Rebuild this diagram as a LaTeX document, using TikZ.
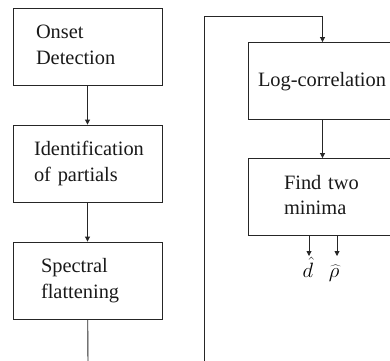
\documentclass[tikz,border=0pt]{standalone}
\usepackage{fontspec}
\setmainfont{Liberation Serif}
\usetikzlibrary{arrows.meta}
\newcommand\boxtext[2]{\hspace*{#1}\begin{tabular}{@{}l@{}}#2\end{tabular}}
\begin{document}
\begin{tikzpicture}[x=1pt,y=-1pt,
  blk/.style={draw=black!85, line width=0.9pt, minimum height=77pt, inner xsep=0pt, inner ysep=0pt, text width=149pt, align=left, font=\fontsize{20.4}{25.5}\selectfont, text=black!90},
  arr/.style={draw=black!85, line width=0.9pt, -{Triangle[length=5pt,width=5pt]}},
  ln/.style={draw=black!85, line width=0.9pt},
  lbl/.style={inner sep=0pt, anchor=base, font=\fontsize{20}{24}\selectfont}]
\useasboundingbox (0,0) rectangle (390,360);
\node[blk] (onset) at (87.5,46.5) {\boxtext{23pt}{Onset\\Detection}};
\node[blk] (ident) at (87.5,163.5) {\boxtext{21pt}{Identification\\of partials}};
\node[blk] (spec) at (87.5,280.5) {\boxtext{28pt}{Spectral\\flattening}};
\node[blk] (logc) at (322.5,81) {\boxtext{10pt}{Log-correlation}};
\node[blk] (find) at (322.5,197) {\boxtext{36pt}{Find two\\minima}};
\coordinate (specend) at (88,365);
\coordinate (loopstart) at (204,365);
\coordinate (loopcorner) at (204,16);
\coordinate (dend) at (309,256);
\coordinate (rend) at (337,256);
\draw[arr] (onset) -- (ident);
\draw[arr] (ident) -- (spec);
\draw[ln] (spec) -- (specend);
\draw[arr] (loopstart) -- (loopcorner) -| (logc);
\draw[arr] (logc) -- (find);
\draw[arr] (find.south -| dend) -- (dend);
\draw[arr] (find.south -| rend) -- (rend);
\node[lbl] (dhat) at (308,277) {$\hat{d}$};
\node[lbl] (rhohat) at (334,277) {$\widehat{\rho}$};
\end{tikzpicture}
\end{document}
